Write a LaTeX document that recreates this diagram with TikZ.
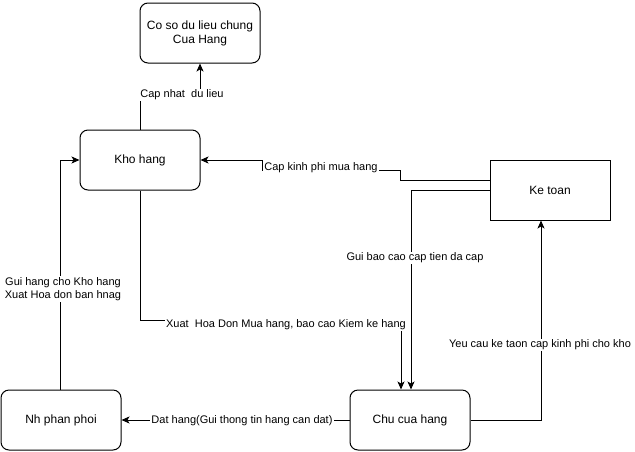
\documentclass[tikz,border=0pt]{standalone}
\usepackage{fontspec}
\setmainfont{Liberation Sans}
\usetikzlibrary{arrows.meta}

\begin{document}
\begin{tikzpicture}[x=1pt, y=-1pt,
		box/.style={draw, line width=1pt, rounded corners=8pt, minimum width=120pt, minimum height=60pt, align=center, font=\fontsize{12}{14}\selectfont},
		lbl/.style={fill=white, inner sep=1pt, align=center, font=\fontsize{11}{13.5}\selectfont},
		flow/.style={line width=1pt, -{Stealth[length=8pt, width=7pt, inset=2pt]}}]
		%%%%% START %%%%%
		\useasboundingbox (0, 0) rectangle (635, 451);
		
		\node[box] (db) at (200, 33) {Co so du lieu chung\\Cua Hang};
		\node[box] (kho) at (140, 160) {Kho hang};
		\node[box, rounded corners=0pt] (kt) at (550, 190) {Ke toan};
		\node[box] (npp) at (61, 420) {Nh phan phoi};
		\node[box] (chu) at (410, 420) {Chu cua hang};
		
		\draw[flow] (kho.north) -- ++(0, -35) -| (db.south);
		\node[lbl] (lcap) at (182, 95) {Cap nhat~ du lieu};
		
		\draw[flow] ([yshift=10pt]kt.west) -| (400, 170) -- (262, 170) |- (kho.east);
		\node[lbl] (lkinh) at (321, 168) {Cap kinh phi mua hang};
		
		\draw[flow] (kt.west) -| ([xshift=1pt]chu.north);
		\node[lbl] (lbao) at (415, 258) {Gui bao cao cap tien da cap};
		
		\draw[flow] (kho.south) -- ++(0, 130) -| ([xshift=-9pt]chu.north);
		\node[lbl] (lxuat) at (286, 325) {Xuat~ Hoa Don Mua hang, bao cao Kiem ke hang};
		
		\draw[flow] (chu.east) -| ([xshift=-9pt]kt.south);
		\node[lbl] (lyeu) at (540, 345) {Yeu cau ke taon cap kinh phi cho kho};
		
		\draw[flow] (chu.west) -- (npp.east);
		\node[lbl] (ldat) at (242, 421) {Dat hang(Gui thong tin hang can dat)};
		
		\draw[flow] ([xshift=-1pt]npp.north) |- (kho.west);
		\node[lbl] (lgui) at (63, 289) {Gui hang cho Kho hang\\Xuat Hoa don ban hnag};
		%%%%% END %%%%%
	\end{tikzpicture}
\end{document}
